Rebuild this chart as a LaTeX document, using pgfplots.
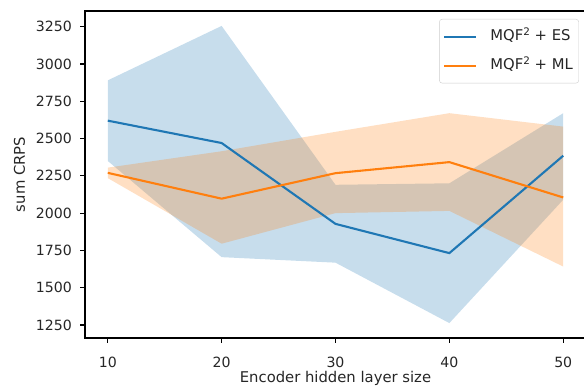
\documentclass[border=0pt]{standalone}
\usepackage{fontspec}
\setmainfont{DejaVu Sans}
\usepackage{pgfplots}
\pgfplotsset{compat=1.18}
\definecolor{mplblue}{HTML}{1F77B4}
\definecolor{mplorange}{HTML}{FF7F0E}
\newcommand{\fs}{\fontsize{14.8}{17}\selectfont}
\newcommand{\fst}{\fontsize{14.1}{17}\selectfont}
\newcommand{\sq}{\raisebox{0.37em}{\fontsize{10.4}{11}\selectfont 2}}
\begin{document}
\begin{tikzpicture}
\begin{axis}[
  at={(0,0)}, anchor=south west,
  scale only axis, width=501pt, height=327pt,
  xmin=8, xmax=52, ymin=1163, ymax=3355,
  xtick={10,20,30,40,50},
  ytick={1250,1500,1750,2000,2250,2500,2750,3000,3250},
  xtick pos=bottom, ytick pos=left,
  tick align=outside, major tick length=4.9pt,
  every tick/.style={black, line width=1.1pt},
  axis line style={black, line width=1.1pt},
  /pgf/number format/assume math mode=true,
  /pgf/number format/1000 sep={},
  tick label style={font=\fst, text=black!85},
  xticklabel style={anchor=base, yshift=-24.7pt, inner sep=0pt},
  yticklabel style={anchor=east, inner sep=0pt, xshift=-13pt+4.9pt},
  xlabel={Encoder hidden layer size},
  ylabel={sum CRPS},
  label style={font=\fs, text=black!85},
  xlabel style={at={(axis description cs:0.5,0)}, anchor=base, yshift=-44pt},
  ylabel style={at={(axis description cs:-0.1198,0.5)}, anchor=base},
  legend style={at={(axis description cs:1,1)}, anchor=north east, xshift=-7pt, yshift=-8pt,
    draw=black!20, rounded corners=3pt, fill=white, fill opacity=0.8, text opacity=1,
    inner xsep=4pt, inner ysep=10.5pt, row sep=15pt, font=\fs,
    nodes={inner sep=0pt, text height=11pt, text depth=3pt, text=black!85},
    /tikz/every odd column/.append style={column sep=13pt}},
  legend cell align=left,
  legend image code/.code={\draw[#1] (0pt,0pt) -- (32pt,0pt);},
]
% ES band
\addplot[forget plot, draw=none, fill=mplblue, fill opacity=0.25] coordinates {
  (10,2890) (20,3255) (30,2190) (40,2200) (50,2670)
  (50,2090) (40,1263) (30,1668) (20,1705) (10,2350)} -- cycle;
% ML band
\addplot[forget plot, draw=none, fill=mplorange, fill opacity=0.25] coordinates {
  (10,2305) (20,2415) (30,2545) (40,2670) (50,2580)
  (50,1642) (40,2015) (30,2000) (20,1795) (10,2235)} -- cycle;
\addplot[mplblue, line width=2.1pt] coordinates {
  (10,2620) (20,2470) (30,1928) (40,1732) (50,2385)};
\addlegendentry{MQF\sq{} + ES\hspace*{2pt}}
\addplot[mplorange, line width=2.1pt] coordinates {
  (10,2270) (20,2097) (30,2268) (40,2342) (50,2105)};
\addlegendentry{MQF\sq{} + ML\hspace*{2pt}}
\end{axis}
\pgfresetboundingbox
\path[use as bounding box] (-85pt,-51pt) rectangle (499pt,338pt);
\end{tikzpicture}
\end{document}
